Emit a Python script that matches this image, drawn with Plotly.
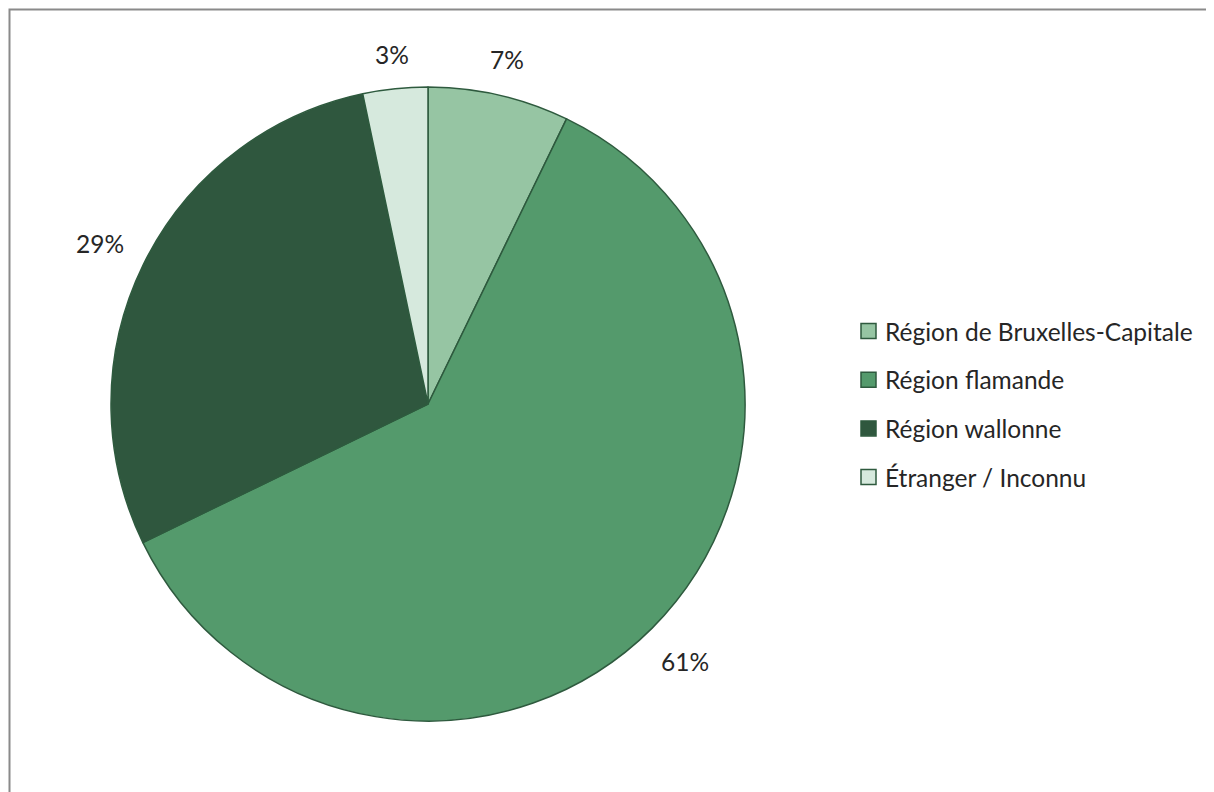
import math
import plotly.graph_objects as go

labels = ["Région de Bruxelles-Capitale", "Région flamande", "Région wallonne", "Étranger / Inconnu"]
values = [7.2, 60.6, 28.9, 3.3]
colors = ["#96c5a3", "#549a6c", "#2f573e", "#d6e9dd"]

W, H = 1214, 792
cx, cy, r = 420, 396, 317          # pie centre / radius in figure pixels
FONT = "Lato, Open Sans, sans-serif"
FS = 24.5
EDGE = "#2e5a3e"

def px(x):
    return x / W

def py(y):
    return 1 - y / H

fig = go.Figure(go.Pie(
    labels=labels,
    values=values,
    sort=False,
    direction="clockwise",
    rotation=0,
    marker=dict(colors=colors, line=dict(color=EDGE, width=1.5)),
    textinfo="none",
    hoverinfo="label+percent",
    showlegend=False,
    domain=dict(x=[px(cx - r), px(cx + r)], y=[py(cy + r), py(cy - r)]),
))

# outside-end percentage labels, placed from the data's cumulative angles
total = sum(values)
annotations = []
cum = 0.0
gap = 21
for v in values:
    mid = (cum + v / 2) / total * 2 * math.pi
    cum += v
    dx, dy = math.sin(mid), -math.cos(mid)
    txt = f"{round(v / total * 100):d}%"
    hw = 7.8 * len(txt) + 1
    hh = 12
    d = r + gap + hw * abs(dx) + hh * abs(dy)
    annotations.append(dict(
        x=px(cx + d * dx), y=py(cy + d * dy), xref="paper", yref="paper",
        text=txt, showarrow=False, xanchor="center", yanchor="middle",
        font=dict(family=FONT, size=FS, color="#262626"),
    ))

# legend built from the label / colour lists
shapes = []
row0, step = 323, 48.7
for i, (lab, col) in enumerate(zip(labels, colors)):
    yc = row0 + i * step
    shapes.append(dict(type="rect", xref="paper", yref="paper",
                       x0=px(853), x1=px(868), y0=py(yc + 7.5), y1=py(yc - 7.5),
                       fillcolor=col, line=dict(color=EDGE, width=1.5)))
    annotations.append(dict(
        x=px(875), y=py(yc), xref="paper", yref="paper", text=lab,
        showarrow=False, xanchor="left", yanchor="middle",
        font=dict(family=FONT, size=FS, color="#262626"),
    ))

# chart frame
shapes.append(dict(type="rect", xref="paper", yref="paper",
                   x0=px(1.5), x1=1.05, y0=-0.05, y1=py(1.5),
                   line=dict(color="#8a8a8a", width=2), layer="below"))

fig.update_layout(
    width=W, height=H,
    margin=dict(l=0, r=0, t=0, b=0),
    paper_bgcolor="white",
    annotations=annotations,
    shapes=shapes,
)

fig.write_html("out.html")
